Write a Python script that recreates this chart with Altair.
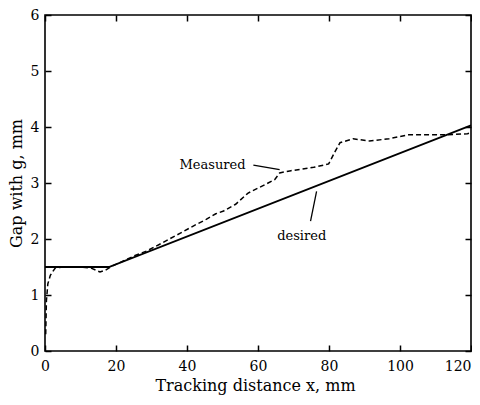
import altair as alt
import pandas as pd

# Desired trajectory
des_x = [0, 18, 120]
des_y = [1.5, 1.5, 4.03]

# Measured trajectory
mea_x = [0.2, 0.4, 0.8, 1.5, 2.2, 3, 6, 10, 13, 15.5, 17.2, 19, 20.5, 25.2, 28.8, 33, 38, 42,
         45.4, 48.1, 50.3, 53.7, 57.2, 61, 64.7, 66.1, 69.3, 75.7, 79.9, 81.7, 83.1, 86.8,
         91.4, 96.9, 102.4, 108.8, 113.4, 119, 120]
mea_y = [0.3, 0.9, 1.2, 1.35, 1.42, 1.49, 1.5, 1.5, 1.48, 1.41, 1.45, 1.52, 1.56, 1.70, 1.79,
         1.93, 2.10, 2.24, 2.35, 2.45, 2.50, 2.62, 2.82, 2.94, 3.06, 3.18, 3.22, 3.28, 3.34,
         3.56, 3.72, 3.79, 3.75, 3.79, 3.86, 3.86, 3.86, 3.88, 3.90]

# Annotations
ann_text = ["Measured", "desired"]
ann_x = [47.2, 72.3]
ann_y = [3.33, 2.05]
lead_x = [58.7, 76.5]
lead_y = [3.32, 2.85]
lead_x2 = [66.1, 74.8]
lead_y2 = [3.24, 2.32]

x_ticks = [0, 20, 40, 60, 80, 100, 120]
y_ticks = [0, 1, 2, 3, 4, 5, 6]

FONT = "DejaVu Serif"

des = pd.DataFrame({"x": des_x, "y": des_y})
mea = pd.DataFrame({"x": mea_x, "y": mea_y})
ann = pd.DataFrame({"t": ann_text, "x": ann_x, "y": ann_y})
lead = pd.DataFrame({"x": lead_x, "y": lead_y, "x2": lead_x2, "y2": lead_y2})

xs = alt.Scale(domain=[0, 120], nice=False, zero=False)
ys = alt.Scale(domain=[0, 6], nice=False, zero=False)

common_axis = dict(domain=False, offset=-6, ticks=True, tickSize=6, tickColor="black",
                   tickWidth=1.5, grid=False)

desired = alt.Chart(des).mark_line(color="black", strokeWidth=1.8).encode(
    x=alt.X("x:Q", scale=xs, axis=alt.Axis(
        title="Tracking distance x, mm", values=x_ticks,
        labelPadding=8, labelFontSize=14, titleFontSize=16, titlePadding=4,
        labelFont=FONT, titleFont=FONT, titleFontWeight="normal", labelColor="black",
        titleColor="black", titleX=210,
        labelAlign=alt.expr("datum.value == 120 ? 'right' : 'center'"),
        **common_axis)),
    y=alt.Y("y:Q", scale=ys, axis=alt.Axis(
        title="Gap with g, mm", values=y_ticks,
        labelPadding=6, labelFontSize=14, titleFontSize=16, titlePadding=6,
        labelFont=FONT, titleFont=FONT, titleFontWeight="normal", labelColor="black",
        titleColor="black", **common_axis)),
    order="x:Q",
)

measured = alt.Chart(mea).mark_line(color="black", strokeWidth=1.5, strokeDash=[5, 3]).encode(
    x=alt.X("x:Q", scale=xs, axis=alt.Axis(orient="top", labels=False, title=None,
                                           values=x_ticks, **common_axis)),
    y=alt.Y("y:Q", scale=ys, axis=alt.Axis(orient="right", labels=False, title=None,
                                           values=y_ticks, **common_axis)),
    order="x:Q",
)

texts = alt.Chart(ann).mark_text(font=FONT, fontSize=13, color="black", align="center",
                                 baseline="middle").encode(
    x=alt.X("x:Q", scale=xs, axis=None),
    y=alt.Y("y:Q", scale=ys, axis=None),
    text="t:N",
)

leaders = alt.Chart(lead).mark_rule(color="black", strokeWidth=1.3).encode(
    x=alt.X("x:Q", scale=xs, axis=None),
    y=alt.Y("y:Q", scale=ys, axis=None),
    x2="x2:Q",
    y2="y2:Q",
)

chart = alt.layer(desired, measured, texts, leaders).resolve_axis(
    x="independent", y="independent"
).properties(
    width=426, height=336,
    autosize=alt.AutoSizeParams(type="none"),
    padding={"left": 37, "top": 7, "right": 1, "bottom": 46},
    background="white",
).configure_view(stroke="black", strokeWidth=1.6)

chart.save("out.html", embed_options={"renderer": "svg", "actions": False})
